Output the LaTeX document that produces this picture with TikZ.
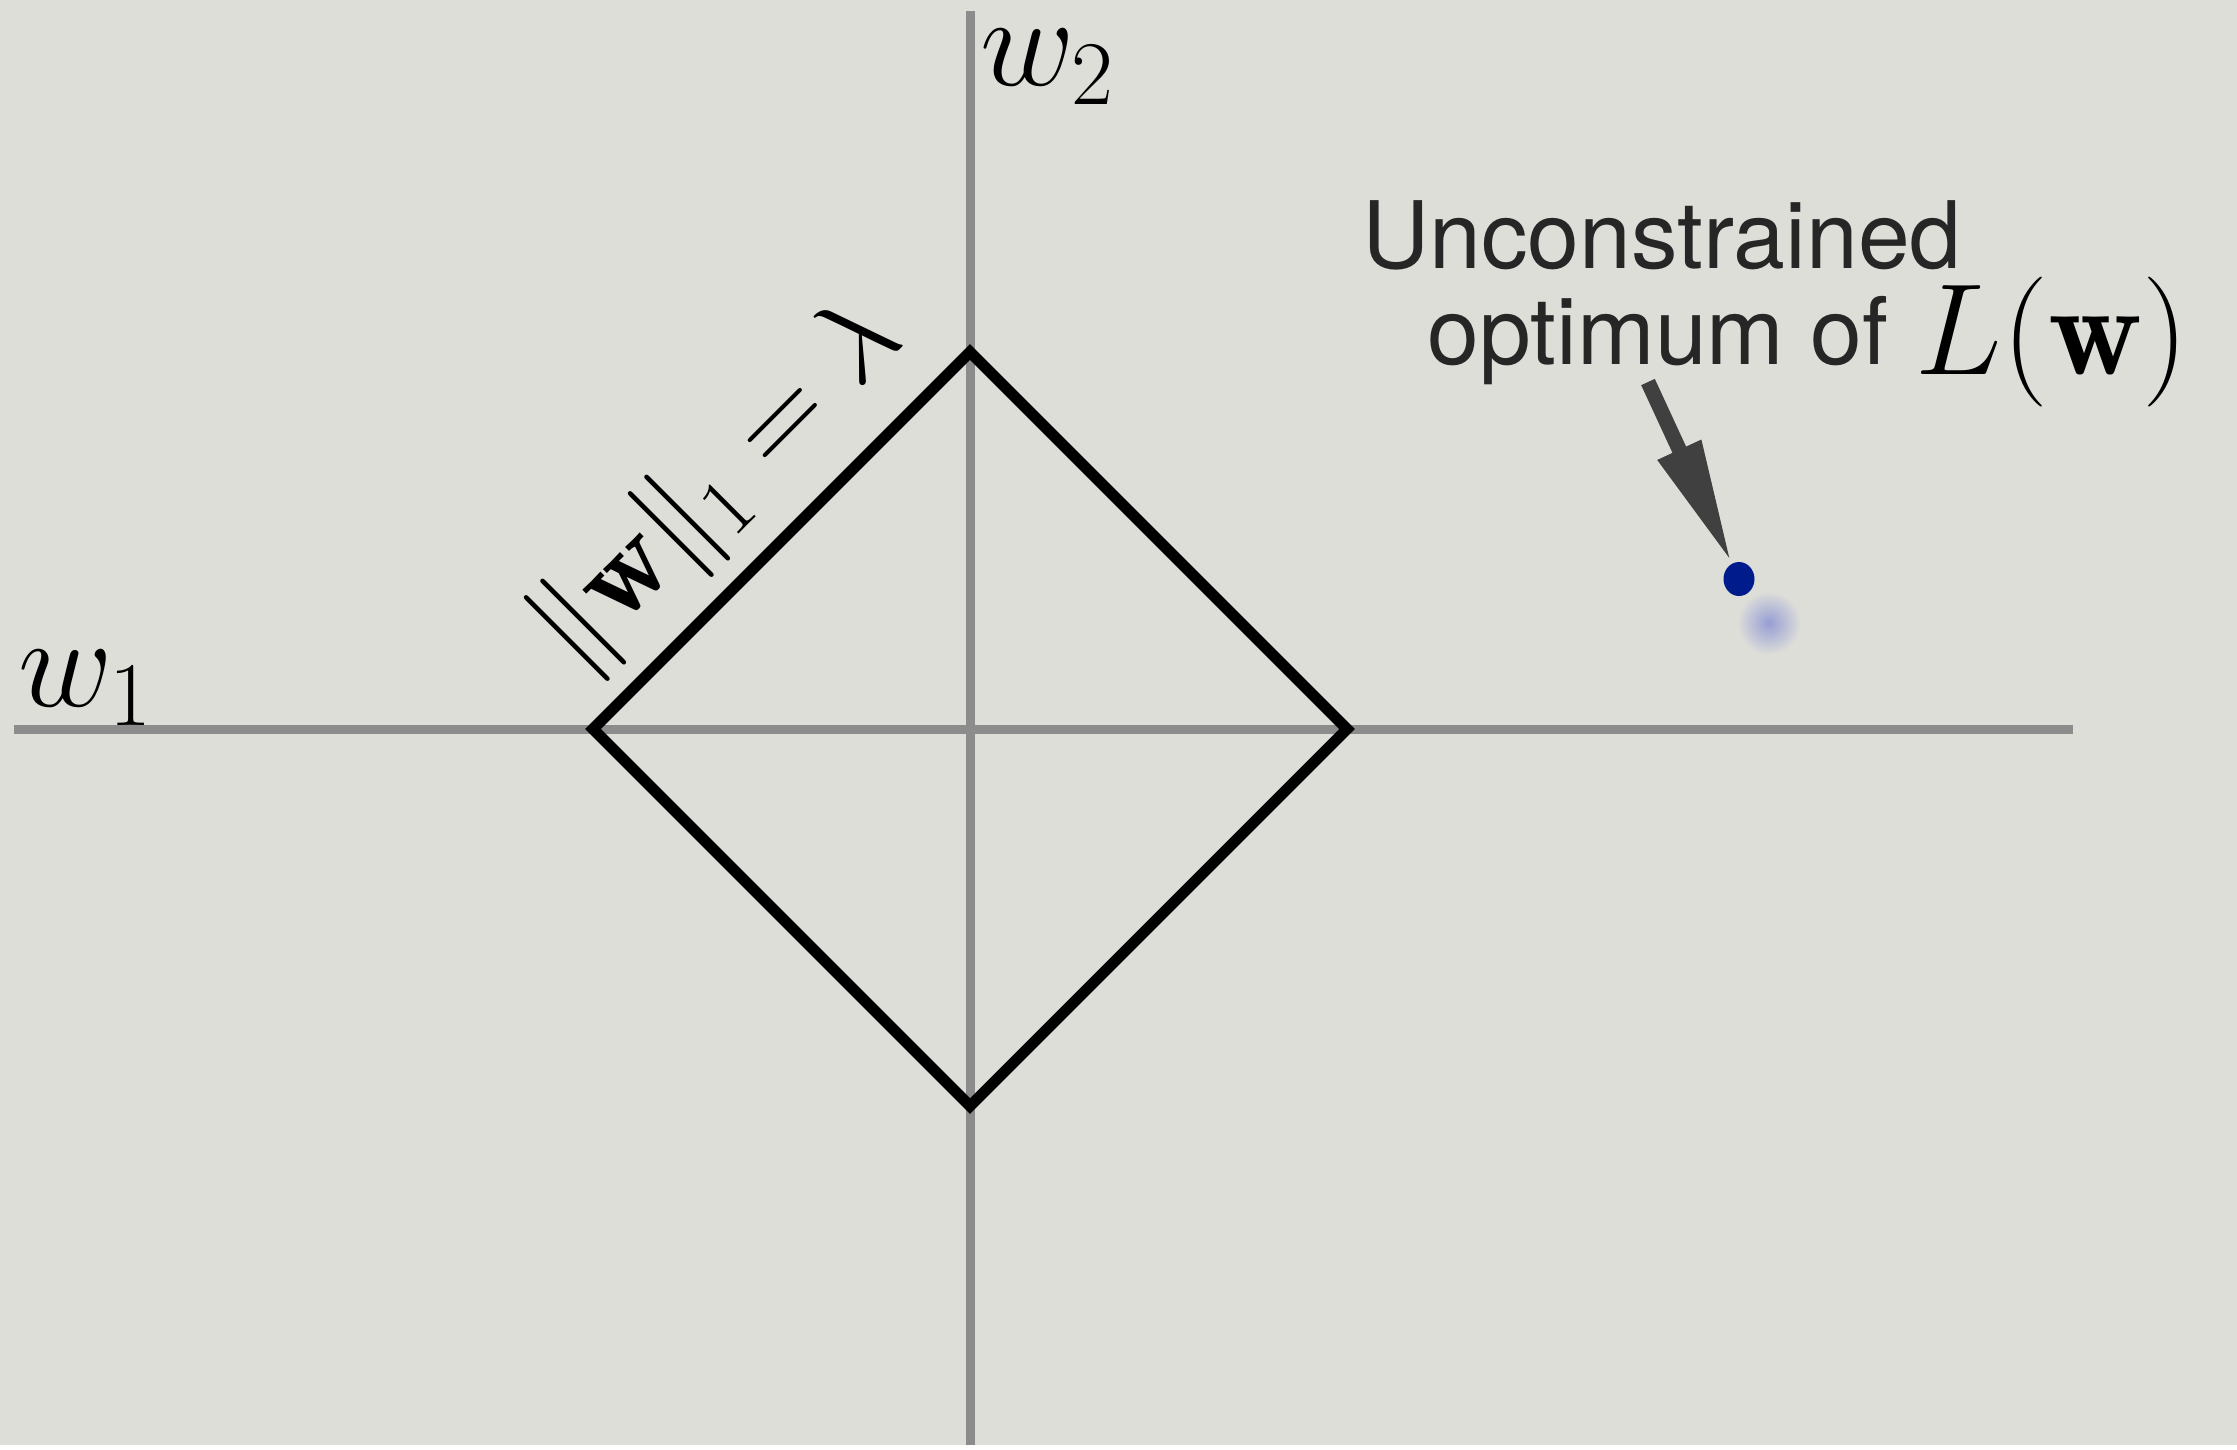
\RequirePackage{fix-cm}
\documentclass[tikz,border=0pt]{standalone}
\usepackage{fontspec}
\setsansfont{TeX Gyre Heros}
\usepackage{xcolor}
\usepackage{tikz}
\usetikzlibrary{arrows.meta,shapes.geometric}

\definecolor{paper}{RGB}{222,222,217}
\definecolor{axisgray}{RGB}{140,140,140}
\definecolor{optblue}{RGB}{0,28,140}
\definecolor{shadowblue}{RGB}{150,158,212}
\definecolor{pointergray}{RGB}{64,64,64}

\begin{document}
\begin{tikzpicture}[x=0.1mm,y=-0.1mm,
 axis/.style={draw=axisgray,line width=0.9mm},
 ball/.style={draw=black,line width=1.1mm,line join=miter},
 lbl/.style={inner sep=0,font=\fontsize{37}{44}\selectfont},
 note/.style={inner sep=0,text=black!85,font=\sffamily\fontsize{26.5}{31}\selectfont},
 optdot/.style={ellipse,fill=optblue,minimum width=3.1mm,minimum height=3.4mm,inner sep=0},
 pointer/.style={draw=pointergray,line width=1.5mm,-{Triangle[length=12.5mm,width=4.4mm]}}]
\fill[paper] (0,0) rectangle (2237,1445);
% axes
\coordinate (xl) at (14,729);
\coordinate (xr) at (2073,729);
\coordinate (yt) at (970,11);
\coordinate (yb) at (970,1445);
\draw[axis] (xl)--(xr);
\draw[axis] (yt)--(yb);
\node[lbl,anchor=base west] (w1) at (18,706) {$w_1$};
\node[lbl,anchor=base west] (w2) at (980,85) {$w_2$};
% l1 ball
\coordinate (W) at (593,729);
\coordinate (N) at (970,352);
\coordinate (E) at (1347,729);
\coordinate (S) at (970,1106);
\draw[ball] (W)--node[lbl,sloped,above=1.7mm,pos=0.49,font=\fontsize{34}{40}\selectfont] (norm) {$\|\mathbf{w}\|_1=\lambda$}(N)--(E)--(S)--cycle;
% unconstrained optimum
\shade[inner color=shadowblue,outer color=paper] (1769,623) circle (32);
\node[optdot] (opt) at (1739,579) {};
\node[note,anchor=base west] (unc) at (1362,268) {Unconstrained};
\node[note,anchor=base west] (optof) at (1427,364) {optimum of};
\node[lbl,anchor=base west] (loss) at (1915,374) {$L(\mathbf{w})$};
\coordinate (tail) at (1648,382);
\draw[pointer] (tail)--(opt);
\end{tikzpicture}
\end{document}
